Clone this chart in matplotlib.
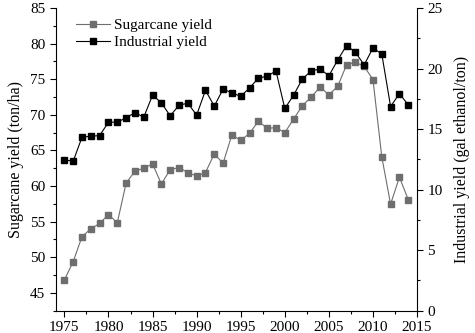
import matplotlib
matplotlib.use("Agg")
import matplotlib.pyplot as plt
from matplotlib.ticker import MultipleLocator

plt.rcParams['font.family'] = ['Liberation Serif', 'DejaVu Serif']
plt.rcParams['font.size'] = 11

# data
years = list(range(1975, 2015))
sugarcane = [46.8, 49.4, 52.9, 54.0, 54.75, 56.0, 54.85, 60.4, 62.1, 62.5,
             63.1, 60.3, 62.3, 62.6, 61.9, 61.4, 61.9, 64.5, 63.2, 67.2,
             66.4, 67.4, 69.1, 68.1, 68.2, 67.5, 69.4, 71.3, 72.5, 73.9,
             72.8, 74.0, 77.0, 77.4, 76.8, 74.95, 64.1, 57.45, 61.25, 58.1]
industrial = [12.45, 12.35, 14.33, 14.41, 14.46, 15.57, 15.57, 15.93, 16.36, 15.98,
              17.8, 17.17, 16.09, 16.97, 17.14, 16.15, 18.2, 16.9, 18.3, 18.0,
              17.7, 18.4, 19.2, 19.37, 19.8, 16.7, 17.8, 19.15, 19.8, 19.97,
              19.4, 20.7, 21.9, 21.35, 20.3, 21.7, 21.2, 16.86, 17.93, 17.0]

fig = plt.figure(figsize=(4.75, 3.33), dpi=100)
ax = fig.add_axes([0.117, 0.067, 0.761, 0.909])
ax2 = ax.twinx()

l1, = ax.plot(years, sugarcane, '-s', color='#6e6e6e', lw=0.8, ms=4.5,
              label='Sugarcane yield')
l2, = ax2.plot(years, industrial, '-s', color='black', lw=0.8, ms=4.5,
               label='Industrial yield')

ax.set_xlim(1974, 2015)
ax.set_ylim(42.5, 85)
ax2.set_ylim(0, 25)

ax.xaxis.set_major_locator(MultipleLocator(5))
ax.xaxis.set_minor_locator(MultipleLocator(2.5))
ax.yaxis.set_major_locator(MultipleLocator(5))
ax.yaxis.set_minor_locator(MultipleLocator(2.5))
ax2.yaxis.set_major_locator(MultipleLocator(5))
ax2.yaxis.set_minor_locator(MultipleLocator(2.5))

for a in (ax, ax2):
    a.spines['top'].set_visible(False)
    a.tick_params(which='major', direction='out', length=4, width=0.8)
    a.tick_params(which='minor', direction='out', length=2.5, width=0.8)
ax.spines['right'].set_visible(False)
ax2.spines['left'].set_visible(False)
ax2.spines['bottom'].set_visible(False)

ax.set_ylabel('Sugarcane yield (ton/ha)', labelpad=4, fontsize=11.5)
ax2.set_ylabel('Industrial yield (gal ethanol/ton)', labelpad=8, fontsize=11.5)

ax.legend(handles=[l1, l2], loc='upper left', frameon=False,
          bbox_to_anchor=(0.04, 0.985), handlelength=2.2, handletextpad=0.3,
          labelspacing=0.2, borderaxespad=0)

fig.savefig('out.png', dpi=100)
